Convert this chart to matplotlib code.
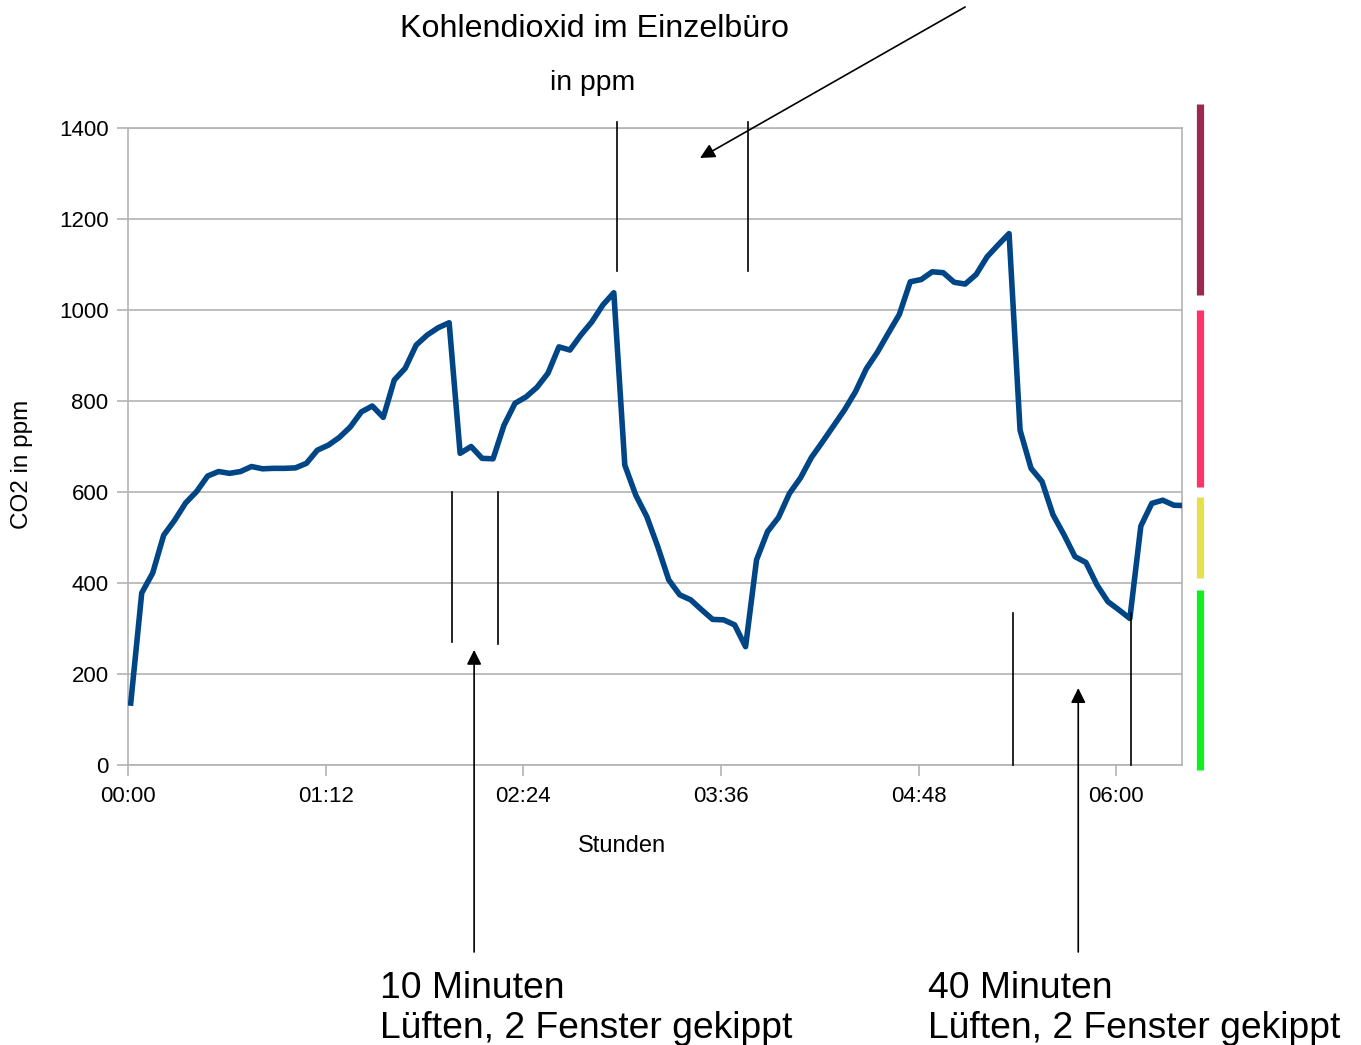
import matplotlib
matplotlib.use("Agg")
import matplotlib.pyplot as plt
import matplotlib.transforms as mtransforms

plt.rcParams['font.family'] = ['Liberation Sans', 'DejaVu Sans']

W, H = 1361, 1045

# CO2 readings, minutes since 00:00
minutes = [1, 5, 9, 13, 17, 21, 25, 29, 33, 37, 41, 45, 49, 53, 57, 61, 65, 69, 73, 77,
           81, 85, 89, 93, 97, 101, 105, 109, 113, 117, 121, 125, 129, 133, 137, 141, 145,
           149, 153, 157, 161, 165, 169, 173, 177, 181, 185, 189, 193, 197, 201, 205, 209,
           213, 217, 221, 225, 229, 233, 237, 241, 245, 249, 253, 257, 261, 265, 269, 273,
           277, 281, 285, 289, 293, 297, 301, 305, 309, 313, 317, 321, 325, 329, 333, 337,
           341, 345, 349, 353, 357, 361, 365, 369, 373, 377, 381, 385]
co2_ppm = [136, 378, 422, 505, 538, 576, 601, 635, 645, 641, 645, 656, 651, 652, 652, 653,
           663, 692, 703, 720, 743, 776, 789, 764, 846, 872, 923, 945, 961, 972, 685, 700,
           674, 673, 747, 795, 809, 830, 861, 919, 912, 945, 974, 1011, 1038, 659, 593, 546,
           480, 407, 374, 363, 341, 320, 319, 308, 260, 451, 513, 544, 597, 631, 676, 710,
           745, 780, 820, 871, 907, 949, 990, 1062, 1067, 1084, 1082, 1061, 1057, 1078, 1117,
           1143, 1168, 736, 652, 623, 550, 506, 458, 445, 396, 359, 341, 322, 525, 575, 582,
           571, 570]

x_ticks = [0, 72, 144, 216, 288, 360]
x_tick_labels = ['00:00', '01:12', '02:24', '03:36', '04:48', '06:00']
y_ticks = [0, 200, 400, 600, 800, 1000, 1200, 1400]

# marker lines drawn by hand on the chart: (minute, ppm from, ppm to)
marker_lines = [(178.2, 1086, 1413), (225.9, 1086, 1413),
                (118.1, 270, 600), (134.8, 266, 600),
                (322.5, 0, 334), (365.5, 0, 334)]

# arrows: (tail minute, tail ppm, head minute, head ppm)
arrows = [(305.0, 1666, 208.4, 1334),
          (126.1, -411, 126.1, 253),
          (346.2, -411, 346.2, 169)]

# colour scale on the right side: (ppm low, ppm high, colour)
bands = [(1033, 1453, '#9b2a52'),
         (611, 1000, '#ff3366'),
         (411, 589, '#e6e04c'),
         (-11, 385, '#11ee22')]


def fpx(x, y):
    return x / W, 1 - y / H


fig = plt.figure(figsize=(W / 100, H / 100), dpi=100)
ax = fig.add_axes([128 / W, 1 - 765 / H, (1182 - 128) / W, (765 - 128) / H])

ax.plot(minutes, co2_ppm, color='#004586', linewidth=4.0, solid_joinstyle='round', zorder=3)

ax.set_xlim(0, 384)
ax.set_ylim(0, 1400)
ax.set_xticks(x_ticks)
ax.set_xticklabels(x_tick_labels)
ax.set_yticks(y_ticks)
ax.tick_params(axis='both', colors='#b3b3b3', labelcolor='black', labelsize=16,
               length=8, width=1.2, direction='out')
ax.tick_params(axis='x', pad=7)
ax.tick_params(axis='y', pad=6)
ax.yaxis.grid(True, color='#b3b3b3', linewidth=1.2)
ax.set_axisbelow(True)
for sp in ax.spines.values():
    sp.set_color('#b3b3b3')
    sp.set_linewidth(1.2)

for mx, y0, y1 in marker_lines:
    ax.plot([mx, mx], [y0, y1], color='black', linewidth=1.2, clip_on=False, zorder=4)

for tx, ty, hx, hy in arrows:
    ax.annotate('', xy=(hx, hy), xytext=(tx, ty), annotation_clip=False,
                arrowprops=dict(arrowstyle='-|>', color='black', lw=1.2,
                                mutation_scale=22, shrinkA=0, shrinkB=0))

trans = mtransforms.blended_transform_factory(ax.transAxes, ax.transData)
for lo, hi, col in bands:
    ax.plot([1.0168, 1.0168], [lo, hi], color=col, linewidth=5.2, solid_capstyle='butt',
            transform=trans, clip_on=False)

fig.text(*fpx(595, 37), 'Kohlendioxid im Einzelbüro', ha='center', va='baseline', fontsize=23.2)
fig.text(*fpx(593, 90), 'in ppm', ha='center', va='baseline', fontsize=20.4)
fig.text(*fpx(622, 846), 'Stunden', ha='center', va='center', fontsize=17)
fig.text(*fpx(22, 464), 'CO2 in ppm', ha='center', va='center', rotation=90, fontsize=17.5)

fig.text(*fpx(380, 998), '10 Minuten', ha='left', va='baseline', fontsize=26.8)
fig.text(*fpx(380, 1038), 'Lüften, 2 Fenster gekippt', ha='left', va='baseline', fontsize=26.8)
fig.text(*fpx(928, 998), '40 Minuten', ha='left', va='baseline', fontsize=26.8)
fig.text(*fpx(928, 1038), 'Lüften, 2 Fenster gekippt', ha='left', va='baseline', fontsize=26.8)

fig.savefig('out.png', dpi=100)
